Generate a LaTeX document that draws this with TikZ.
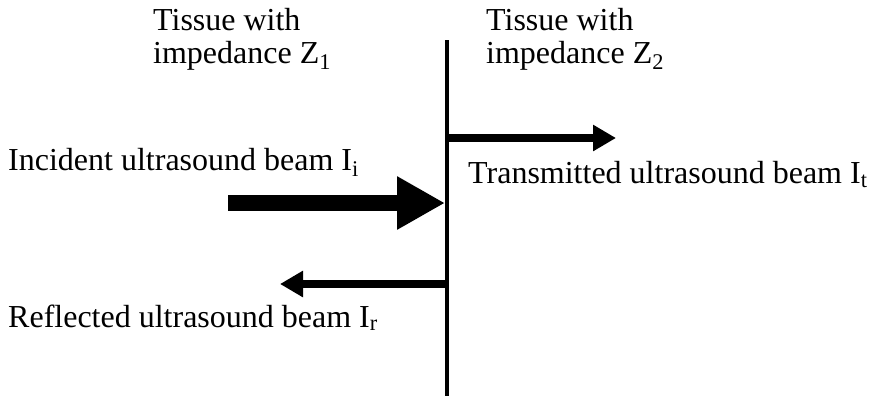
\documentclass[tikz,border=0pt]{standalone}
\usepackage{fontspec}
\setmainfont{Liberation Serif}
\usepackage{tikz}
\usetikzlibrary{
    arrows.meta
}
\tikzset{
    label text/.style={
        inner sep=0pt,
        font=\fontsize{32}{33}\selectfont,
        align=left
    },
    interface/.style={
        line width=4pt
    },
    beam/.style={
        line width=7.5pt,
        -{Triangle[length=23pt,width=25pt]}
    },
    big beam/.style={
        line width=16pt,
        -{Triangle[length=48pt,width=50pt]}
    }
}

\begin{document}
\begin{tikzpicture}[
    x=1pt,
    y=-1pt
]

    \useasboundingbox (0,0) rectangle (872,400);

    % Interfaz
    \coordinate (wall top) at (447,40);
    \coordinate (wall bot) at (447,396);
    \draw[interface] (wall top) -- (wall bot);

    % Tejidos
    \node[label text, anchor=north west] (tissue1) at (153,8)
        {Tissue with\\impedance Z\textsubscript{1}};
    \node[label text, anchor=north west] (tissue2) at (486,8)
        {Tissue with\\impedance Z\textsubscript{2}};

    % Haces
    \coordinate (inc tail)   at (228,203);
    \coordinate (inc hit)    at (445,203);
    \coordinate (trans out)  at (449,138);
    \coordinate (trans tip)  at (616,138);
    \coordinate (refl out)   at (447,284);
    \coordinate (refl tip)   at (280,284);

    \draw[big beam] (inc tail) -- (inc hit);
    \draw[beam] (trans out) -- (trans tip);
    \draw[beam] (refl out) -- (refl tip);

    % Etiquetas
    \node[label text, anchor=base west] (inc)   at (8,170)
        {Incident ultrasound beam I\textsubscript{i}};
    \node[label text, anchor=base west] (trans) at (468,183)
        {Transmitted ultrasound beam I\textsubscript{t}};
    \node[label text, anchor=base west] (refl)  at (8,327)
        {Reflected ultrasound beam I\textsubscript{r}};

\end{tikzpicture}
\end{document}
